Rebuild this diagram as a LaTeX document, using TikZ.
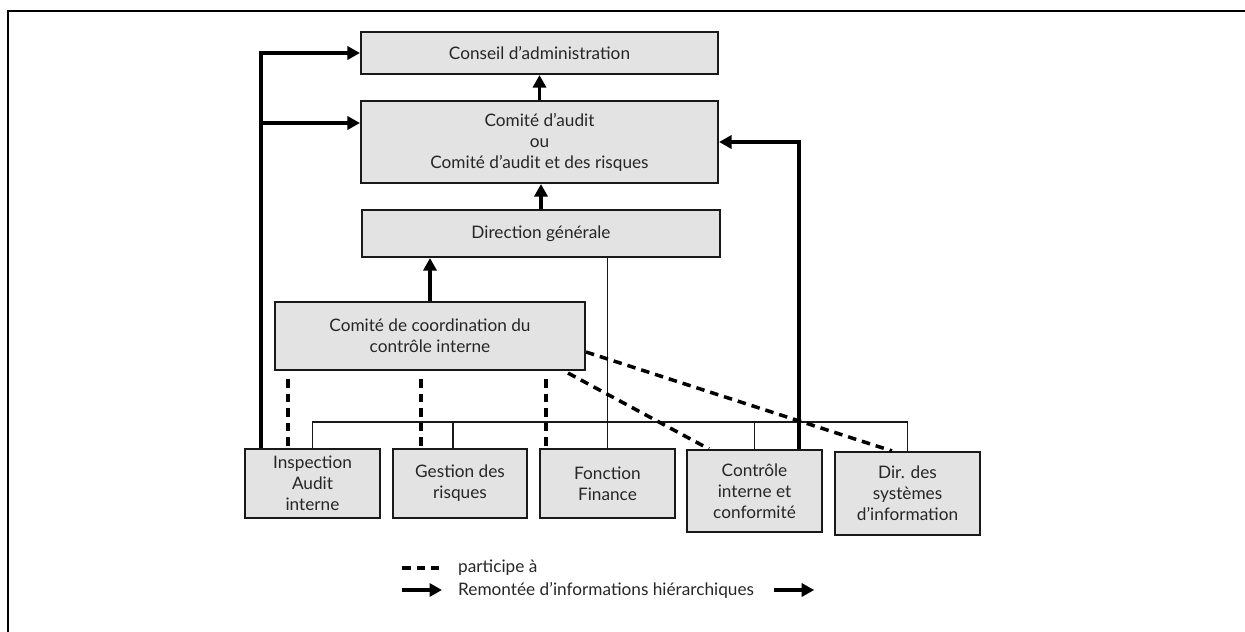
\documentclass[tikz,border=0pt]{standalone}
\usepackage{fontspec}
\setmainfont{Lato}
\usepackage{xcolor}
\usetikzlibrary{arrows.meta,calc}

\begin{document}
\begin{tikzpicture}[x=0.02cm,y=-0.02cm,
    box/.style={draw=black!90, fill=black!11, line width=1.2pt, align=center, inner sep=0pt,
      text=black!85, font=\fontsize{9.8}{12}\selectfont},
    flow/.style={line width=2pt, -{Triangle[length=0.25cm,width=0.26cm]}},
    thin/.style={line width=1pt, draw=black!90},
    part/.style={line width=2pt, dash pattern=on 0.17cm off 0.12cm}]
      \useasboundingbox (0,0) rectangle (1245,632);
      \draw[line width=1.7pt] (8,640) -- (8,11) -- (1250,11);

      \node[box, minimum width=7.14cm, minimum height=0.84cm] (conseil) at (539.5,53) {Conseil d’administration};
      \node[box, minimum width=7.14cm, minimum height=1.64cm] (audit) at (539.5,142) {Comité d’audit\\ou\\Comité d’audit et des risques};
      \node[box, minimum width=7.16cm, minimum height=0.94cm] (direction) at (541,233.5) {Direction générale};
      \node[box, minimum width=6.2cm, minimum height=1.36cm] (coord) at (430,336) {Comité de coordination du\\contrôle interne};

      \node[box, minimum width=2.7cm, minimum height=1.38cm] (inspection) at (312.5,483.5) {Inspection\\Audit\\interne};
      \node[box, minimum width=2.68cm, minimum height=1.38cm] (gestion) at (460,483.5) {Gestion des\\risques};
      \node[box, minimum width=2.7cm, minimum height=1.38cm] (fonction) at (607.5,483.5) {Fonction\\Finance};
      \node[box, minimum width=2.7cm, minimum height=1.64cm] (controle) at (754.5,491) {Contrôle\\interne et\\conformité};
      \node[box, minimum width=2.9cm, minimum height=1.66cm] (dir) at (907.5,493.5) {Dir. des\\systèmes\\d’information};

      % thin links
      \coordinate (bus) at (0,422);
      \coordinate (g1) at ($(gestion.north)+(-7,0)$);
      \draw[thin] (fonction.north |- direction.south) -- (fonction.north);
      \draw[thin] (inspection.north) -- (inspection.north |- bus) -- (dir.north |- bus) -- (dir.north);
      \draw[thin] (g1 |- bus) -- (g1);
      \draw[thin] (controle.north |- bus) -- (controle.north);

      % participation
      \coordinate (d1) at ($(coord.south west)+(14,8)$);
      \coordinate (d2) at ($(coord.south west)+(147,8)$);
      \coordinate (d3) at ($(coord.south west)+(272,8)$);
      \foreach \d in {d1,d2,d3}
        \draw[part] (\d) -- (\d |- inspection.north);
      \draw[part] ($(coord.south east)+(-18,2)$) -- ($(controle.north west)+(23,0)$);
      \draw[part] ($(coord.east)+(0,16)$) -- ($(dir.north west)+(58,0)$);

      % hierarchy
      \draw[flow] (audit.north) -- (conseil.south);
      \draw[flow] (direction.north) -- (direction.north |- audit.south);
      \draw[flow] (coord.north) -- (coord.north |- direction.south);
      \coordinate (up1) at ($(inspection.north west)+(17,0)$);
      \coordinate (aud1) at ($(audit.west)+(0,-19)$);
      \draw[flow] (up1) |- (conseil.west);
      \draw[flow] (up1 |- aud1) -- (aud1);
      \coordinate (up2) at ($(controle.north east)+(-24,0)$);
      \draw[flow] (up2) |- (audit.east);

      % legend
      \node[anchor=west, text=black!85, font=\fontsize{9.8}{12}\selectfont] (legpart) at (452,568) {participe à};
      \node[anchor=west, text=black!85, font=\fontsize{9.8}{12}\selectfont] (legflow) at (452,590) {Remontée d’informations hiérarchiques};
      \draw[part] ($(legpart.west)+(-50,0)$) -- ($(legpart.west)+(-8,0)$);
      \draw[flow] ($(legflow.west)+(-50,0)$) -- ($(legflow.west)+(-10,0)$);
      \draw[flow] ($(legflow.east)+(14,0)$) -- ($(legflow.east)+(54,0)$);
\end{tikzpicture}
\end{document}
